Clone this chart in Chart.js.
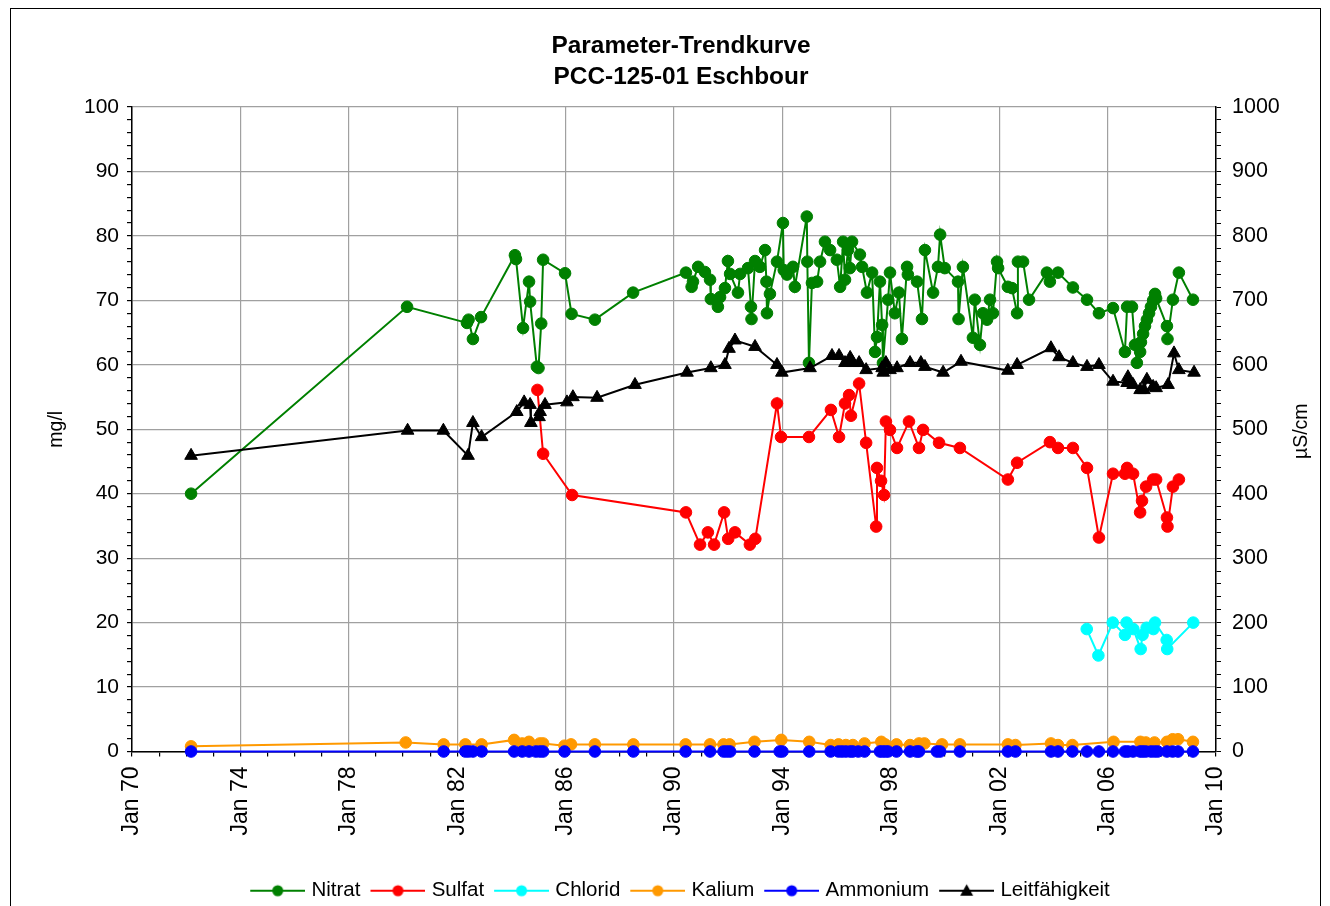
<!DOCTYPE html>
<html lang="de">
<head>
<meta charset="utf-8">
<title>Parameter-Trendkurve PCC-125-01 Eschbour</title>
<script src="https://cdn.jsdelivr.net/npm/chart.js@4.4.0/dist/chart.umd.min.js"></script>
<style>
    html, body { margin: 0; padding: 0; background: #fff; }
    #wrap { width: 1330px; height: 906px; }
</style>
</head>
<body>
<div id="wrap"><canvas id="trendChart" width="1330" height="906"></canvas></div>
<script>
// Sampling dates are decimal years

const nitratDates = [1972.18, 1980.15, 1982.36, 1982.42, 1982.58, 1982.88, 1984.13, 1984.17, 1984.43, 1984.65,
    1984.69, 1984.94, 1985.0, 1985.1, 1985.17, 1985.98, 1986.22, 1987.08, 1988.49, 1990.44,
    1990.65, 1990.7, 1990.89, 1991.14, 1991.33, 1991.36, 1991.62, 1991.7, 1991.88, 1991.99,
    1992.07, 1992.36, 1992.44, 1992.73, 1992.84, 1992.86, 1992.99, 1993.17, 1993.36, 1993.41,
    1993.43, 1993.54, 1993.8, 1994.02, 1994.05, 1994.17, 1994.39, 1994.46, 1994.9, 1994.92,
    1994.98, 1995.09, 1995.28, 1995.39, 1995.57, 1995.76, 1996.01, 1996.13, 1996.24, 1996.31,
    1996.42, 1996.49, 1996.57, 1996.86, 1996.94, 1997.12, 1997.31, 1997.42, 1997.49, 1997.6,
    1997.68, 1997.71, 1997.9, 1997.97, 1998.15, 1998.3, 1998.41, 1998.6, 1998.63, 1998.97,
    1999.15, 1999.26, 1999.56, 1999.74, 1999.82, 1999.99, 2000.48, 2000.5, 2000.66, 2001.03,
    2001.1, 2001.29, 2001.4, 2001.55, 2001.66, 2001.77, 2001.92, 2001.96, 2002.32, 2002.47,
    2002.66, 2002.69, 2002.88, 2003.1, 2003.76, 2003.87, 2004.17, 2004.72, 2005.24, 2005.68,
    2006.2, 2006.64, 2006.72, 2006.9, 2007.01, 2007.08, 2007.2, 2007.23, 2007.31, 2007.38,
    2007.45, 2007.53, 2007.6, 2007.68, 2007.75, 2007.79, 2008.19, 2008.21, 2008.41, 2008.63,
    2009.15];
const nitratValues = [40, 69, 66.5, 67, 64, 67.4, 77, 76.4, 65.7, 72.9,
    69.8, 59.7, 59.5, 66.4, 76.3, 74.2, 67.9, 67, 71.2, 74.3,
    72.1, 72.9, 75.2, 74.4, 73.2, 70.2, 69, 70.5, 71.9, 76.1,
    74.1, 71.2, 74.1, 75, 69, 67.1, 76.1, 75.2, 77.8, 72.9,
    68, 71, 76, 82, 74.7, 74, 75.2, 72.1, 83, 76,
    60.3, 72.7, 72.9, 76, 79.1, 77.8, 76.3, 72.1, 79.1, 73.2,
    77.8, 75, 79.1, 77.1, 75.2, 71.2, 74.3, 62, 64.3, 72.9,
    66.2, 60.3, 70.1, 74.3, 68, 71.2, 64, 75.2, 74, 72.9,
    67.1, 77.8, 71.2, 75.2, 80.2, 75, 72.9, 67.1, 75.2, 64.2,
    70.1, 63.1, 68, 67, 70.1, 68, 76, 75, 72.1, 71.9,
    68, 76, 76, 70.1, 74.3, 72.9, 74.3, 72, 70.1, 68,
    68.8, 62, 69, 69, 63.1, 60.3, 62, 63.5, 64.8, 66,
    67, 68, 69, 70, 71, 70.3, 66, 64, 70.1, 74.3,
    70.1];

const sulfatDates = [1984.96, 1985.17, 1986.24, 1990.44, 1990.96, 1991.25, 1991.48, 1991.85, 1992.0, 1992.25,
    1992.8, 1993.0, 1993.8, 1993.95, 1994.98, 1995.79, 1996.09, 1996.31, 1996.46, 1996.53,
    1996.83, 1997.09, 1997.46, 1997.49, 1997.64, 1997.75, 1997.82, 1997.97, 1998.23, 1998.67,
    1999.04, 1999.19, 1999.78, 2000.55, 2002.32, 2002.66, 2003.87, 2004.17, 2004.72, 2005.24,
    2005.68, 2006.2, 2006.64, 2006.72, 2006.94, 2007.2, 2007.27, 2007.42, 2007.68, 2007.79,
    2008.19, 2008.21, 2008.41, 2008.63];
const sulfatValues = [56.1, 46.2, 39.8, 37.1, 32.1, 34, 32.1, 37.1, 33, 34,
    32.1, 33, 54, 48.8, 48.8, 53, 48.8, 54, 55.3, 52.1,
    57.1, 47.9, 34.9, 44, 42, 39.8, 51.2, 49.9, 47.1, 51.2,
    47.1, 49.9, 47.9, 47.1, 42.2, 44.8, 48, 47.1, 47.1, 44,
    33.2, 43.1, 43.1, 44, 43.1, 37.1, 38.9, 41.1, 42.2, 42.2,
    36.3, 34.9, 41.1, 42.2];

const chloridDates = [2005.23, 2005.66, 2006.19, 2006.64, 2006.7, 2006.95, 2007.22, 2007.29, 2007.44, 2007.69,
    2007.75, 2008.18, 2008.2, 2009.16];
const chloridValues = [19, 14.9, 20, 18.1, 20, 19, 15.9, 18.1, 19.2, 19,
    20, 17.3, 15.9, 20];

const kaliumDates = [1972.18, 1980.1, 1981.5, 1982.3, 1982.9, 1984.1, 1984.4, 1984.65, 1985.05, 1985.17,
    1985.96, 1986.2, 1987.08, 1988.5, 1990.43, 1991.33, 1991.83, 1992.05, 1992.97, 1993.96,
    1994.99, 1995.78, 1996.07, 1996.34, 1996.6, 1997.03, 1997.65, 1997.79, 1998.21, 1998.71,
    1999.04, 1999.24, 1999.89, 2000.55, 2002.32, 2002.6, 2003.91, 2004.17, 2004.7, 2006.22,
    2007.21, 2007.41, 2007.73, 2008.19, 2008.4, 2008.6, 2009.15];
const kaliumValues = [0.8, 1.4, 1.1, 1.1, 1.1, 1.8, 1.25, 1.5, 1.25, 1.25,
    0.9, 1.1, 1.1, 1.1, 1.1, 1.1, 1.1, 1.1, 1.5, 1.8,
    1.5, 1.0, 1.1, 1.0, 1.0, 1.25, 1.5, 1.1, 1.1, 1.0,
    1.25, 1.25, 1.1, 1.1, 1.1, 1.0, 1.25, 1.0, 1.0, 1.5,
    1.5, 1.4, 1.4, 1.5, 1.9, 1.9, 1.5];

const ammoniumDates = [1972.18, 1981.5, 1982.3, 1982.42, 1982.58, 1982.9, 1984.1, 1984.4, 1984.65, 1984.9,
    1985.05, 1985.17, 1985.96, 1987.08, 1988.5, 1990.43, 1991.33, 1991.83, 1991.95, 1992.07,
    1992.97, 1993.9, 1994.0, 1994.99, 1995.78, 1996.07, 1996.2, 1996.34, 1996.5, 1996.6,
    1996.8, 1997.03, 1997.6, 1997.7, 1997.8, 1997.9, 1998.21, 1998.71, 1998.95, 1999.04,
    1999.7, 1999.82, 2000.55, 2002.32, 2002.6, 2003.91, 2004.17, 2004.7, 2005.24, 2005.68,
    2006.2, 2006.64, 2006.75, 2006.94, 2007.2, 2007.3, 2007.41, 2007.6, 2007.73, 2007.85,
    2008.19, 2008.4, 2008.6, 2009.15];
const ammoniumValues = [0, 0, 0, 0, 0, 0, 0, 0, 0, 0,
    0, 0, 0, 0, 0, 0, 0, 0, 0, 0,
    0, 0, 0, 0, 0, 0, 0, 0, 0, 0,
    0, 0, 0, 0, 0, 0, 0, 0, 0, 0,
    0, 0, 0, 0, 0, 0, 0, 0, 0, 0,
    0, 0, 0, 0, 0, 0, 0, 0, 0, 0,
    0, 0, 0, 0];

// Leitfähigkeit in µS/cm (right axis)
const leitDates = [1972.18, 1980.17, 1981.49, 1982.4, 1982.58, 1982.9, 1984.2, 1984.47, 1984.69, 1984.72,
    1985.02, 1985.06, 1985.24, 1986.05, 1986.27, 1987.16, 1988.56, 1990.48, 1991.36, 1991.88,
    1992.03, 1992.25, 1992.99, 1993.8, 1993.98, 1995.02, 1995.83, 1996.09, 1996.31, 1996.5,
    1996.6, 1996.83, 1997.09, 1997.68, 1997.72, 1997.82, 1997.97, 1998.23, 1998.71, 1999.11,
    1999.26, 1999.93, 2000.59, 2002.32, 2002.66, 2003.91, 2004.21, 2004.72, 2005.24, 2005.68,
    2006.2, 2006.72, 2006.75, 2006.94, 2007.2, 2007.34, 2007.45, 2007.68, 2007.79, 2008.23,
    2008.45, 2008.63, 2009.19];
const leitValues = [459, 498, 498, 459, 510, 488, 527, 542, 538, 510,
    519, 527, 538, 542, 550, 549, 569, 588, 595, 600,
    625, 638, 628, 600, 588, 595, 614, 614, 603, 611,
    603, 603, 592, 595, 588, 603, 592, 595, 603, 603,
    597, 588, 605, 591, 600, 626, 612, 603, 597, 600,
    574, 572, 581, 569, 561, 561, 577, 566, 564, 569,
    618, 592, 588];

const titleLines = ['Parameter-Trendkurve', 'PCC-125-01 Eschbour'];
const seriesNames = ['Nitrat', 'Sulfat', 'Chlorid', 'Kalium', 'Ammonium', 'Leitfähigkeit'];
const seriesColors = ['#008000', '#ff0000', '#00ffff', '#ff9900', '#0000ff', '#000000'];
const leftAxisTitle = 'mg/l';
const rightAxisTitle = 'µS/cm';

const FONT = '"Liberation Sans", Arial, Helvetica, sans-serif';
Chart.defaults.font.family = FONT;
Chart.defaults.color = '#000';

function toPoints(dates, values) {
    return dates.map((d, i) => ({ x: d, y: values[i] }));
}

function yearLabel(value) {
    if ((value - 1970) % 4 !== 0) return '';
    return 'Jan ' + String(value % 100).padStart(2, '0');
}

// legend swatch: short line with the marker in the middle, like the original.
// The canvas is a bit wider on the left so the text sits closer to the line.
function makeSwatch(color, marker) {
    const c = document.createElement('canvas');
    c.width = 59;
    c.height = 16;
    const g = c.getContext('2d');
    g.strokeStyle = color;
    g.fillStyle = color;
    g.lineWidth = 2;
    g.beginPath();
    g.moveTo(4, 8);
    g.lineTo(59, 8);
    g.stroke();
    g.beginPath();
    if (marker === 'triangle') {
        g.moveTo(31.5, 1.5);
        g.lineTo(38, 13);
        g.lineTo(25, 13);
        g.closePath();
    } else {
        g.arc(31.5, 8, 5.5, 0, Math.PI * 2);
    }
    g.fill();
    return c;
}

function makeDataset(idx, dates, values, axis, marker) {
    return {
        label: seriesNames[idx],
        data: toPoints(dates, values),
        yAxisID: axis,
        borderColor: seriesColors[idx],
        backgroundColor: seriesColors[idx],
        borderWidth: 2,
        pointStyle: marker,
        pointRadius: marker === 'triangle' ? 7.3 : 5.8,
        pointBorderWidth: 1,
        pointBackgroundColor: seriesColors[idx],
        pointBorderColor: seriesColors[idx],
        tension: 0,
        clip: 10,
        order: 5 - idx,
        swatch: makeSwatch(seriesColors[idx], marker)
    };
}

// white background, outer frame, chart title and the right axis title
const framePlugin = {
    id: 'frame',
    beforeDraw(chart) {
        const ctx = chart.ctx;
        ctx.save();
        ctx.fillStyle = '#fff';
        ctx.fillRect(0, 0, chart.width, chart.height);
        ctx.strokeStyle = '#000';
        ctx.lineWidth = 1;
        ctx.strokeRect(10.5, 8.5, 1310, 905);
        ctx.restore();
    },
    afterDraw(chart) {
        const ctx = chart.ctx;
        ctx.save();
        ctx.fillStyle = '#000';
        ctx.textAlign = 'center';
        ctx.textBaseline = 'middle';
        ctx.font = 'bold 24.4px ' + FONT;
        ctx.fillText(titleLines[0], 681, 46);
        ctx.fillText(titleLines[1], 681, 77);

        const area = chart.chartArea;
        ctx.font = '19.5px ' + FONT;
        ctx.translate(1302, (area.top + area.bottom) / 2 + 2);
        ctx.rotate(-Math.PI / 2);
        ctx.fillText(rightAxisTitle, 0, 0);
        ctx.restore();
    }
};

const ctx = document.getElementById('trendChart');

new Chart(ctx, {
    type: 'line',
    data: {
        datasets: [
            makeDataset(0, nitratDates, nitratValues, 'y', 'circle'),
            makeDataset(1, sulfatDates, sulfatValues, 'y', 'circle'),
            makeDataset(2, chloridDates, chloridValues, 'y', 'circle'),
            makeDataset(3, kaliumDates, kaliumValues, 'y', 'circle'),
            makeDataset(4, ammoniumDates, ammoniumValues, 'y', 'circle'),
            makeDataset(5, leitDates, leitValues, 'y1', 'triangle')
        ]
    },
    options: {
        responsive: false,
        animation: false,
        events: [],
        layout: {
            padding: { left: 30, right: 0, top: 107, bottom: -5 }
        },
        plugins: {
            title: { display: false },
            legend: {
                position: 'bottom',
                labels: {
                    usePointStyle: true,
                    pointStyleWidth: 51,
                    padding: 10,
                    color: '#000',
                    font: { size: 20.5 },
                    sort: (a, b) => a.datasetIndex - b.datasetIndex,
                    generateLabels(chart) {
                        const items = Chart.defaults.plugins.legend.labels.generateLabels(chart);
                        items.forEach(item => {
                            item.pointStyle = chart.data.datasets[item.datasetIndex].swatch;
                        });
                        return items;
                    }
                }
            },
            tooltip: { enabled: false }
        },
        scales: {
            x: {
                type: 'linear',
                min: 1970,
                max: 2010,
                afterFit(scale) { scale.height = 119; },
                ticks: {
                    stepSize: 1,
                    autoSkip: false,
                    minRotation: 90,
                    maxRotation: 90,
                    padding: 10,
                    font: { size: 23 },
                    color: '#000',
                    callback: yearLabel
                },
                grid: {
                    color: c => (c.tick && (c.tick.value - 1970) % 4 === 0) ? '#a0a0a0' : 'rgba(0,0,0,0)',
                    tickColor: '#000',
                    tickLength: 5,
                    lineWidth: 1.2
                },
                border: { color: '#000', width: 1.5 }
            },
            y: {
                position: 'left',
                min: 0,
                max: 100,
                afterFit(scale) { scale.width = 102; },
                ticks: {
                    stepSize: 2,
                    autoSkip: false,
                    padding: 8,
                    font: { size: 21 },
                    color: '#000',
                    callback: v => (v % 10 === 0 ? String(v) : '')
                },
                grid: {
                    color: c => (c.tick && c.tick.value % 10 === 0) ? '#a0a0a0' : 'rgba(0,0,0,0)',
                    tickColor: '#000',
                    tickLength: 5,
                    lineWidth: 1.2
                },
                border: { color: '#000', width: 1.5 },
                title: {
                    display: true,
                    text: leftAxisTitle,
                    font: { size: 19.5 },
                    color: '#000',
                    padding: { top: 15, bottom: 0 }
                }
            },
            y1: {
                position: 'right',
                min: 0,
                max: 1000,
                afterFit(scale) { scale.width = 114; },
                ticks: {
                    stepSize: 20,
                    autoSkip: false,
                    padding: 11,
                    font: { size: 21.5 },
                    color: '#000',
                    callback: v => (v % 100 === 0 ? String(v) : '')
                },
                grid: {
                    drawOnChartArea: false,
                    tickColor: '#000',
                    tickLength: 5
                },
                border: { color: '#000', width: 1.5 }
            }
        }
    },
    plugins: [framePlugin]
});
</script>
</body>
</html>
